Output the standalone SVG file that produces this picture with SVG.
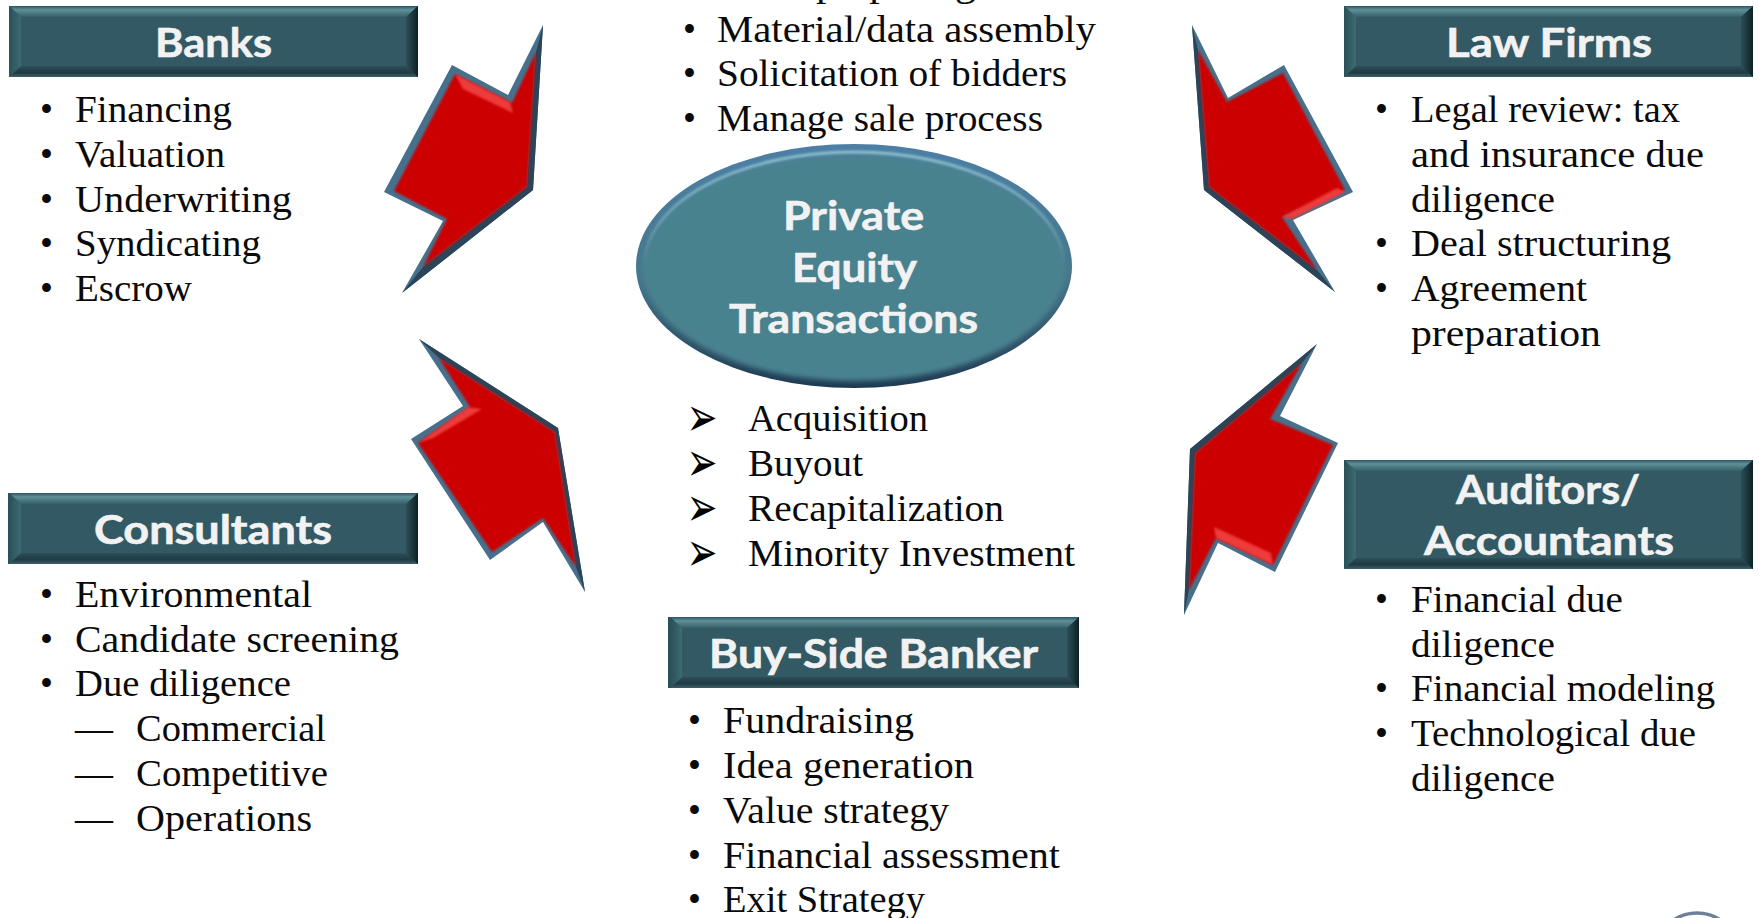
<svg xmlns="http://www.w3.org/2000/svg" width="1759" height="918" viewBox="0 0 1759 918">
<style>
.t{font-family:"Liberation Serif",serif;font-size:37px;fill:#0a0a0a}
.h{font-family:Lato,"Liberation Sans",sans-serif;font-size:40px;font-weight:700;fill:#f2f2f2;stroke:#f2f2f2;stroke-width:.6}
.m{font-family:"DejaVu Sans",sans-serif;font-size:37px;fill:#000}
.bg{fill:#335a64}
.o{fill:#47708c}.d{fill:#2b4458}.r{fill:#cc0000;filter:url(#soft)}.l{fill:#ee3a3a;filter:url(#soft)}
</style>
<defs>
<linearGradient id="top" x1="0" y1="0" x2="0" y2="1"><stop offset="0" stop-color="#2d5560"/><stop offset=".35" stop-color="#5f9099"/><stop offset="1" stop-color="#356069"/></linearGradient>
<linearGradient id="bot" x1="0" y1="0" x2="0" y2="1"><stop offset="0" stop-color="#2c4f58"/><stop offset=".6" stop-color="#1f3a42"/><stop offset="1" stop-color="#3d6068"/></linearGradient>
<linearGradient id="lef" x1="0" y1="0" x2="1" y2="0"><stop offset="0" stop-color="#2a5058"/><stop offset="1" stop-color="#3d6a74"/></linearGradient>
<linearGradient id="rig" x1="0" y1="0" x2="1" y2="0"><stop offset="0" stop-color="#2c4f58"/><stop offset="1" stop-color="#0d2026"/></linearGradient>
<linearGradient id="ring" x1="0" y1="0" x2="0" y2="1"><stop offset="0" stop-color="#4d7fa6"/><stop offset=".55" stop-color="#46778c"/><stop offset="1" stop-color="#1e3a52"/></linearGradient>
<linearGradient id="shine" x1="0" y1="0" x2="0" y2="1"><stop offset="0" stop-color="#8cc0cb"/><stop offset=".3" stop-color="#8cc0cb" stop-opacity=".5"/><stop offset=".5" stop-color="#8cc0cb" stop-opacity="0"/></linearGradient>
<filter id="soft" x="-10%" y="-10%" width="120%" height="120%"><feGaussianBlur stdDeviation=".9"/></filter>
<filter id="soft2" x="-10%" y="-10%" width="120%" height="120%"><feGaussianBlur stdDeviation="2.5"/></filter>
<g id="bevel"><rect class="bg" width="409" height="71"/><polygon fill="url(#top)" points="0,0 409,0 397,11 12,11"/><polygon fill="url(#bot)" points="0,71 409,71 397,60 12,60"/><polygon fill="url(#lef)" points="0,0 12,11 12,60 0,71"/><polygon fill="url(#rig)" points="409,0 397,11 397,60 409,71"/></g>
<g id="bevel-tall"><rect class="bg" width="409" height="109"/><polygon fill="url(#top)" points="0,0 409,0 397,11 12,11"/><polygon fill="url(#bot)" points="0,109 409,109 397,98 12,98"/><polygon fill="url(#lef)" points="0,0 12,11 12,98 0,109"/><polygon fill="url(#rig)" points="409,0 397,11 397,98 409,109"/></g>
</defs>
<g id="connectors">
<g id="arrow-banks"><polygon class="o" points="543,25 508,95 452,65 384,192 443,221 402,293 533,190"/><polygon class="d" points="543,25 533,190 402,293 423,267 527,187 536,52"/><polygon class="r" points="536,52 512,103 455,74 394,191 447,219 423,267 527,187"/><polygon class="l" points="455,74 510,102 513,113 463,89"/></g>
<g id="arrow-consultants"><polygon class="o" points="419,339 463,406 411,439 490,560 543,522 585,592 558,428"/><polygon class="d" points="419,339 558,428 585,592 576,567 555,432 439,358"/><polygon class="r" points="439,358 470,407 418,443 492,552 543,518 576,567 555,432"/><polygon class="l" points="418,443 468,407 482,409 433,438"/></g>
<g id="arrow-law"><polygon class="o" points="1192,25 1228,98 1284,65 1353,192 1293,220 1335,292 1204,190"/><polygon class="d" points="1192,25 1204,190 1335,292 1317,270 1209,187 1198,50"/><polygon class="r" points="1198,50 1227,102 1283,73 1345,190 1282,217 1317,270 1209,187"/><polygon class="l" points="1337,188 1282,217 1292,219 1345,192"/></g>
<g id="arrow-auditors"><polygon class="o" points="1317,344 1280,416 1338,443 1275,572 1218,543 1184,615 1190,449"/><polygon class="d" points="1317,344 1190,449 1184,615 1189,590 1195,453 1302,363"/><polygon class="r" points="1302,363 1270,419 1333,445 1273,565 1216,538 1189,590 1195,453"/><polygon class="l" points="1216,538 1273,565 1271,553 1214,527"/></g>
</g>
<g id="banks"><use href="#bevel" x="9" y="6"/>
<text class="h" x="155" y="57" textLength="117" lengthAdjust="spacingAndGlyphs">Banks</text>
<text class="t" x="40" y="122">•</text><text class="t" x="75" y="122" textLength="157" lengthAdjust="spacingAndGlyphs">Financing</text>
<text class="t" x="40" y="167">•</text><text class="t" x="75" y="167" textLength="150" lengthAdjust="spacingAndGlyphs">Valuation</text>
<text class="t" x="40" y="212">•</text><text class="t" x="75" y="212" textLength="217" lengthAdjust="spacingAndGlyphs">Underwriting</text>
<text class="t" x="40" y="256">•</text><text class="t" x="75" y="256" textLength="186" lengthAdjust="spacingAndGlyphs">Syndicating</text>
<text class="t" x="40" y="301">•</text><text class="t" x="75" y="301" textLength="117" lengthAdjust="spacingAndGlyphs">Escrow</text>
</g>
<g id="consultants"><rect x="8" y="493" width="3" height="71" fill="#2a5058"/><use href="#bevel" x="9" y="493"/>
<text class="h" x="94" y="544" textLength="238" lengthAdjust="spacingAndGlyphs">Consultants</text>
<text class="t" x="40" y="607">•</text><text class="t" x="75" y="607" textLength="237" lengthAdjust="spacingAndGlyphs">Environmental</text>
<text class="t" x="40" y="652">•</text><text class="t" x="75" y="652" textLength="324" lengthAdjust="spacingAndGlyphs">Candidate screening</text>
<text class="t" x="40" y="696">•</text><text class="t" x="75" y="696" textLength="216" lengthAdjust="spacingAndGlyphs">Due diligence</text>
<text class="t" x="75" y="741" textLength="38" lengthAdjust="spacingAndGlyphs">—</text><text class="t" x="136" y="741" textLength="190" lengthAdjust="spacingAndGlyphs">Commercial</text>
<text class="t" x="75" y="786" textLength="38" lengthAdjust="spacingAndGlyphs">—</text><text class="t" x="136" y="786" textLength="192" lengthAdjust="spacingAndGlyphs">Competitive</text>
<text class="t" x="75" y="831" textLength="38" lengthAdjust="spacingAndGlyphs">—</text><text class="t" x="136" y="831" textLength="176" lengthAdjust="spacingAndGlyphs">Operations</text>
</g>
<g id="sell-side-list">
<text class="t" x="816" y="-4" textLength="160" lengthAdjust="spacingAndGlyphs">preparing</text>
<text class="t" x="683" y="42">•</text><text class="t" x="717" y="42" textLength="379" lengthAdjust="spacingAndGlyphs">Material/data assembly</text>
<text class="t" x="683" y="86">•</text><text class="t" x="717" y="86" textLength="350" lengthAdjust="spacingAndGlyphs">Solicitation of bidders</text>
<text class="t" x="683" y="131">•</text><text class="t" x="717" y="131" textLength="326" lengthAdjust="spacingAndGlyphs">Manage sale process</text>
</g>
<g id="center">
<ellipse cx="854" cy="266" rx="218" ry="122" fill="url(#ring)"/>
<ellipse cx="854" cy="268" rx="211" ry="113" fill="#4a828f" filter="url(#soft2)"/>
<ellipse cx="854" cy="266" rx="210" ry="114" fill="none" stroke="url(#shine)" stroke-width="3" filter="url(#soft)"/>
<text class="h" x="783" y="230" textLength="141" lengthAdjust="spacingAndGlyphs">Private</text>
<text class="h" x="792" y="282" textLength="125" lengthAdjust="spacingAndGlyphs">Equity</text>
<text class="h" x="729" y="333" textLength="249" lengthAdjust="spacingAndGlyphs">Transactions</text>
</g>
<g id="transaction-list">
<text class="m" transform="translate(686.5,436) scale(1,1.5)">➢</text><text class="t" x="748" y="431" textLength="180" lengthAdjust="spacingAndGlyphs">Acquisition</text>
<text class="m" transform="translate(686.5,481) scale(1,1.5)">➢</text><text class="t" x="748" y="476" textLength="115" lengthAdjust="spacingAndGlyphs">Buyout</text>
<text class="m" transform="translate(686.5,526) scale(1,1.5)">➢</text><text class="t" x="748" y="521" textLength="256" lengthAdjust="spacingAndGlyphs">Recapitalization</text>
<text class="m" transform="translate(686.5,571) scale(1,1.5)">➢</text><text class="t" x="748" y="566" textLength="327" lengthAdjust="spacingAndGlyphs">Minority Investment</text>
</g>
<g id="buy-side"><rect x="668" y="617" width="3" height="71" fill="#2a5058"/><use href="#bevel" x="670" y="617"/>
<text class="h" x="709" y="668" textLength="329" lengthAdjust="spacingAndGlyphs">Buy-Side Banker</text>
<text class="t" x="688" y="733">•</text><text class="t" x="723" y="733" textLength="191" lengthAdjust="spacingAndGlyphs">Fundraising</text>
<text class="t" x="688" y="778">•</text><text class="t" x="723" y="778" textLength="251" lengthAdjust="spacingAndGlyphs">Idea generation</text>
<text class="t" x="688" y="823">•</text><text class="t" x="723" y="823" textLength="226" lengthAdjust="spacingAndGlyphs">Value strategy</text>
<text class="t" x="688" y="868">•</text><text class="t" x="723" y="868" textLength="337" lengthAdjust="spacingAndGlyphs">Financial assessment</text>
<text class="t" x="688" y="912">•</text><text class="t" x="723" y="912" textLength="202" lengthAdjust="spacingAndGlyphs">Exit Strategy</text>
</g>
<g id="law-firms"><use href="#bevel" x="1344" y="6"/>
<text class="h" x="1446" y="57" textLength="206" lengthAdjust="spacingAndGlyphs">Law Firms</text>
<text class="t" x="1375" y="122">•</text><text class="t" x="1411" y="122" textLength="269" lengthAdjust="spacingAndGlyphs">Legal review: tax</text>
<text class="t" x="1411" y="167" textLength="293" lengthAdjust="spacingAndGlyphs">and insurance due</text>
<text class="t" x="1411" y="212" textLength="144" lengthAdjust="spacingAndGlyphs">diligence</text>
<text class="t" x="1375" y="256">•</text><text class="t" x="1411" y="256" textLength="260" lengthAdjust="spacingAndGlyphs">Deal structuring</text>
<text class="t" x="1375" y="301">•</text><text class="t" x="1411" y="301" textLength="176" lengthAdjust="spacingAndGlyphs">Agreement</text>
<text class="t" x="1411" y="346" textLength="190" lengthAdjust="spacingAndGlyphs">preparation</text>
</g>
<g id="auditors"><use href="#bevel-tall" x="1344" y="460"/>
<text class="h" x="1456" y="504" textLength="184" lengthAdjust="spacingAndGlyphs">Auditors/</text>
<text class="h" x="1424" y="555" textLength="250" lengthAdjust="spacingAndGlyphs">Accountants</text>
<text class="t" x="1375" y="612">•</text><text class="t" x="1411" y="612" textLength="212" lengthAdjust="spacingAndGlyphs">Financial due</text>
<text class="t" x="1411" y="657" textLength="144" lengthAdjust="spacingAndGlyphs">diligence</text>
<text class="t" x="1375" y="701">•</text><text class="t" x="1411" y="701" textLength="304" lengthAdjust="spacingAndGlyphs">Financial modeling</text>
<text class="t" x="1375" y="746">•</text><text class="t" x="1411" y="746" textLength="285" lengthAdjust="spacingAndGlyphs">Technological due</text>
<text class="t" x="1411" y="791" textLength="144" lengthAdjust="spacingAndGlyphs">diligence</text>
</g>
<circle id="corner-mark" cx="1697" cy="955" r="42" fill="none" stroke="#6e7f9e" stroke-width="3.5"/>
</svg>
